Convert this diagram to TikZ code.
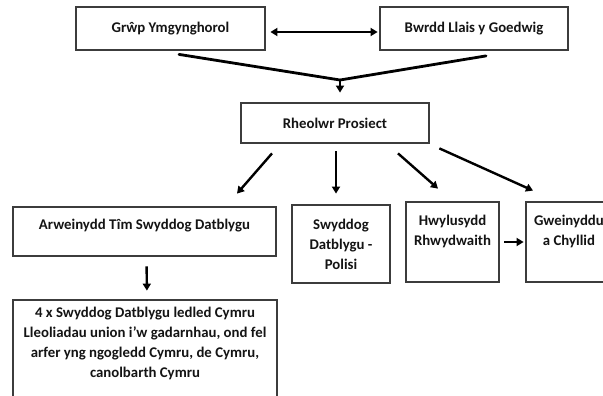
\documentclass[tikz,border=0pt]{standalone}
\usepackage{fontspec}
\setmainfont{Carlito}
\usepackage{tikz}
\usetikzlibrary{
	positioning,
	arrows.meta
}

\definecolor{boxgray}{RGB}{60,60,60}
\definecolor{inkblack}{RGB}{20,20,20}

\tikzset{
	box/.style={draw=boxgray,line width=2.8pt,fill=white,text=inkblack,
		font=\fontsize{14.8}{20}\selectfont\bfseries,align=center,inner sep=0pt},
	link/.style={line width=2.4pt,-{Triangle[length=7pt,width=8pt]}},
	feeder/.style={line width=2.8pt,line cap=round}
}

\begin{document}
\begin{tikzpicture}[x=1pt,y=-1pt]
		\path[use as bounding box,clip] (0,0) rectangle (603,396);

		\draw
			node[box,minimum width=189pt,minimum height=43pt] (grwp)     at (170.5,28.5) {Grŵp Ymgynghorol}
			node[box,minimum width=188pt,minimum height=43pt] (bwrdd)    at (474,28.5)   {Bwrdd Llais y Goedwig}
			node[box,minimum width=188pt,minimum height=40pt] (rheolwr)  at (335,123)    {Rheolwr Prosiect}
			node[box,minimum width=263pt,minimum height=49pt] (arwein)   at (144.5,231.5) {Arweinydd Tîm Swyddog Datblygu\\[-6pt]~}
			node[box,minimum width=98pt,minimum height=78pt]  (swyddog)  at (341,244)    {Swyddog\\Datblygu -\\Polisi}
			node[box,minimum width=93pt,minimum height=80pt]  (hwylus)   at (452.5,242)  {Hwylusydd\\Rhwydwaith\\[4pt]~}
			node[box,minimum width=86pt,minimum height=80pt]  (gweinydd) at (569,242)    {Gweinyddu\\a Chyllid\\[4pt]~}
			node[box,minimum width=264pt,minimum height=105pt] (pedwar)  at (145,352.5)
				{4 x Swyddog Datblygu ledled Cymru\\Lleoliadau union i’w gadarnhau, ond fel\\arfer yng ngogledd Cymru, de Cymru,\\canolbarth Cymru\\~}
		;

		% top row into the project manager
		\draw[line width=2.4pt,{Triangle[length=7pt,width=8pt]}-{Triangle[length=7pt,width=8pt]},shorten <=4pt,shorten >=1pt]
			([shift={(0,3.5)}]grwp.east) -- ([shift={(0,3.5)}]bwrdd.west);
		\coordinate (merge) at (340,80);
		\draw[feeder] ([shift={(8.5,3)}]grwp.south) -- (merge) -- ([shift={(12,4.5)}]bwrdd.south);
		\draw[link,shorten >=9pt] (merge) -- (merge |- rheolwr.north);

		% project manager to the team
		\draw[link] ([shift={(-63,9)}]rheolwr.south)     -- ([shift={(92.5,-12)}]arwein.north);
		\draw[link] ([shift={(1,7)}]rheolwr.south)       -- ([shift={(-5,-10)}]swyddog.north);
		\draw[link] ([shift={(63,9)}]rheolwr.south)      -- ([shift={(-14.5,-12)}]hwylus.north);
		\draw[link] ([shift={(9,4)}]rheolwr.south east)  -- ([shift={(-36,-10)}]gweinydd.north);
		\draw[link,shorten <=4pt,shorten >=1pt] (hwylus) -- (gweinydd);
		\draw[link,shorten <=9pt,shorten >=8pt] ([shift={(2,0)}]arwein.south) -- ([shift={(2,0)}]pedwar.north);
    \end{tikzpicture}
\end{document}
